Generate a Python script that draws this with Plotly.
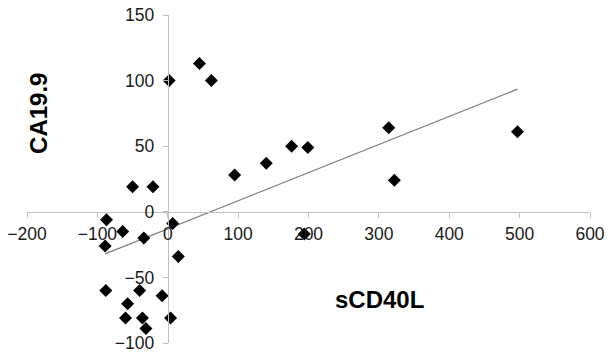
import numpy as np
import plotly.graph_objects as go

# sCD40L (x) and CA19.9 (y) values
scd40l = [2, 45, 62, 176, 140, 95, 199, 314, 322, 497, 194,
          -50, -21, -87, -64, -89, -34, 7, 15, -88, -40, -8, -57, -60, -36, 4, -31]
ca199 = [100, 113, 100, 50, 37, 28, 49, 64, 24, 61, -17,
         19, 19, -6, -15, -26, -20, -9, -34, -60, -60, -64, -70, -81, -81, -81, -89]

x_ticks = [-200, -100, 0, 100, 200, 300, 400, 500, 600]
y_ticks = [-100, -50, 0, 50, 100, 150]

x_title = "sCD40L"
y_title = "CA19.9"

xr = [-200, 600]
yr = [-100, 150]

# linear trendline from data
slope, intercept = np.polyfit(scd40l, ca199, 1)
tx = [min(scd40l), max(scd40l)]
ty = [slope * v + intercept for v in tx]

fig = go.Figure()
fig.add_trace(go.Scatter(x=tx, y=ty, mode="lines",
                         line=dict(color="#808080", width=1.3), hoverinfo="skip"))
fig.add_trace(go.Scatter(x=scd40l, y=ca199, mode="markers",
                         marker=dict(symbol="diamond", size=10, color="black")))

font_ticks = dict(family="Liberation Sans, Arial, sans-serif", size=17.5, color="#1a1a1a")

fig.update_layout(
    width=610, height=358,
    margin=dict(l=27, r=16, t=5, b=7),
    paper_bgcolor="white", plot_bgcolor="white",
    showlegend=False,
    xaxis=dict(range=xr, tickvals=x_ticks, showgrid=False, zeroline=False,
               showline=True, linecolor="#c0c0c0", linewidth=1,
               ticks="outside", ticklen=5, tickcolor="#c0c0c0",
               anchor="free", position=(0 - yr[0]) / (yr[1] - yr[0]),
               tickfont=font_ticks, ticklabeloverflow="allow",
               ticklabelstandoff=1),
    yaxis=dict(range=yr, tickvals=y_ticks, showgrid=False, zeroline=False,
               showline=True, linecolor="#c0c0c0", linewidth=1,
               ticks="outside", ticklen=5, tickcolor="#c0c0c0",
               anchor="free", position=(0 - xr[0]) / (xr[1] - xr[0]),
               tickfont=font_ticks, ticklabeloverflow="allow",
               ticklabelstandoff=5),
    annotations=[
        dict(x=-183.6, y=75, xref="x", yref="y", text="<b>" + y_title + "</b>",
             showarrow=False, textangle=-90,
             font=dict(family="Liberation Sans, Arial, sans-serif", size=24, color="black")),
        dict(x=301, y=-67, xref="x", yref="y", text="<b>" + x_title + "</b>",
             showarrow=False,
             font=dict(family="Liberation Sans, Arial, sans-serif", size=24, color="black")),
    ],
)

fig.write_html("out.html", config={"displayModeBar": False},
               post_script="document.body.style.margin='0';document.body.style.overflow='hidden';")
